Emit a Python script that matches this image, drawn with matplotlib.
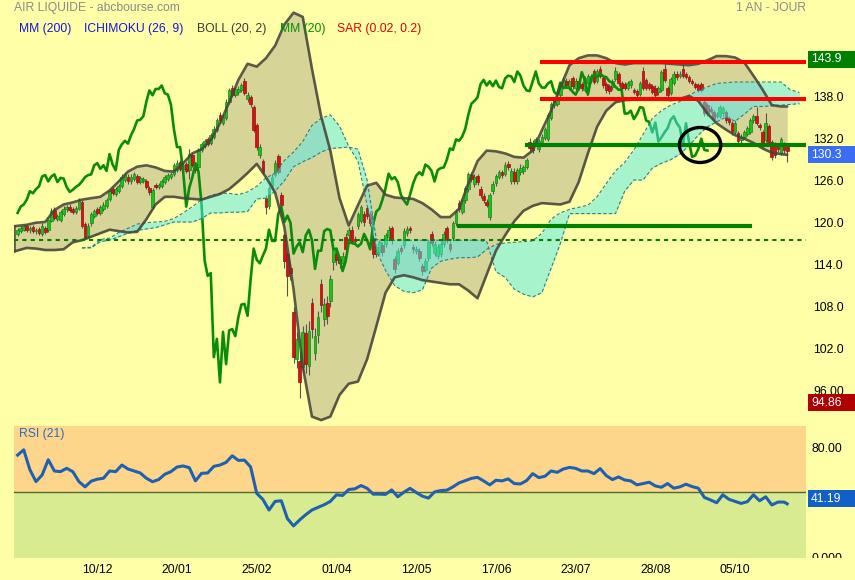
import numpy as np
import matplotlib
matplotlib.use("Agg")
import matplotlib.pyplot as plt
from matplotlib.patches import Rectangle, Ellipse
from matplotlib.transforms import Bbox, TransformedBbox

plt.rcParams['font.family'] = ['Liberation Sans', 'DejaVu Sans']

# ---------------- data ----------------
date_labels = ['10/12', '20/01', '25/02', '01/04', '12/05', '17/06', '23/07', '28/08', '05/10']
label_bars = [26, 52, 78, 104, 130, 156, 182, 208, 234]

opens = [
    118.4, 118.8, 119.0, 119.6, 118.9, 119.4, 118.8, 119.1, 118.4, 119.3,
    118.9, 120.3, 121.8, 120.6, 120.4, 121.3, 121.9, 122.3, 121.9, 121.6,
    122.0, 123.0, 119.8, 118.1, 119.9, 121.0, 121.9, 121.4, 122.0, 122.4,
    123.4, 124.8, 124.1, 124.6, 125.2, 126.1, 126.6, 125.9, 126.3, 126.7,
    125.8, 126.0, 125.9, 125.0, 122.3, 125.4, 125.1, 125.3, 125.8, 126.3,
    126.6, 126.9, 127.6, 128.6, 127.7, 128.4, 127.5, 129.6, 128.4, 128.0,
    130.4, 131.0, 131.9, 131.4, 132.3, 133.3, 135.4, 134.3, 135.0, 137.2,
    139.2, 138.3, 138.6, 139.0, 140.2, 137.6, 137.9, 136.5, 134.0, 129.7,
    128.8, 123.6, 122.4, 125.2, 126.8, 129.5, 124.0, 118.3, 115.5, 113.6,
    107.2, 100.6, 100.2, 99.4, 104.2, 99.6, 108.5, 101.4, 103.9, 111.3,
    106.2, 108.6, 108.8, 114.4, 115.5, 114.8, 114.2, 118.0, 118.3, 119.0,
    117.7, 119.6, 120.2, 121.2, 122.1, 121.3, 117.8, 115.6, 115.8, 116.8,
    117.0, 117.9, 119.2, 114.8, 114.3, 116.4, 116.8, 118.5, 119.3, 116.6,
    115.9, 116.0, 113.8, 113.3, 115.0, 118.4, 115.7, 115.2, 115.5, 117.0,
    119.2, 117.0, 117.8, 120.0, 122.8, 121.6, 123.2, 124.8, 126.8, 125.5,
    126.7, 124.8, 123.8, 123.0, 120.8, 124.5, 125.7, 126.5, 127.3, 127.0,
    128.4, 125.9, 127.3, 125.9, 127.2, 127.4, 128.0, 131.5, 131.4, 131.3,
    130.5, 131.5, 132.1, 132.0, 135.0, 136.8, 137.0, 138.2, 139.5, 140.3,
    139.3, 140.6, 139.2, 140.3, 139.8, 139.0, 140.0, 140.3, 141.6, 140.2,
    142.0, 140.6, 139.8, 139.5, 139.4, 140.5, 141.2, 139.9, 139.8, 139.3,
    139.6, 138.9, 138.8, 138.4, 141.6, 140.4, 139.8, 139.5, 139.3, 138.6,
    139.0, 142.0, 139.2, 138.5, 140.0, 141.3, 140.9, 142.0, 141.2, 140.8,
    140.2, 139.8, 139.6, 139.8, 137.3, 136.8, 136.3, 135.8, 135.2, 135.2,
    135.6, 135.8, 135.0, 134.2, 132.9, 132.8, 131.8, 132.2, 132.7, 133.0,
    134.6, 135.3, 134.0, 132.9, 131.8, 133.8, 131.5, 131.2, 130.8, 130.0,
    131.2, 131.0]

closes = [
    118.9, 119.2, 119.5, 119.0, 119.3, 118.8, 119.0, 118.6, 119.6, 118.7,
    120.4, 121.7, 120.7, 120.9, 121.5, 122.0, 122.2, 121.8, 121.6, 122.1,
    123.2, 119.6, 118.0, 119.6, 121.2, 121.7, 121.4, 122.3, 122.6, 123.3,
    124.5, 124.2, 124.8, 125.2, 126.6, 126.8, 125.9, 126.6, 126.9, 125.8,
    126.4, 126.3, 125.1, 124.4, 124.7, 125.1, 125.4, 125.9, 126.5, 126.8,
    126.9, 128.2, 128.5, 127.7, 128.2, 127.4, 129.8, 128.3, 127.5, 130.4,
    131.2, 131.7, 131.3, 132.5, 133.4, 134.6, 134.7, 135.2, 137.3, 138.9,
    138.2, 139.1, 139.1, 139.6, 138.5, 138.3, 136.9, 133.3, 130.8, 130.8,
    127.3, 122.3, 125.0, 126.5, 128.5, 127.3, 122.6, 114.6, 112.4, 112.8,
    100.8, 103.4, 97.2, 104.4, 99.8, 104.6, 104.8, 103.8, 106.5, 108.3,
    108.4, 106.7, 111.9, 116.3, 114.7, 114.2, 115.3, 116.3, 119.0, 117.4,
    117.4, 121.2, 122.3, 120.1, 121.0, 120.0, 115.6, 116.6, 117.2, 115.8,
    118.2, 119.0, 117.5, 113.4, 116.0, 116.0, 118.8, 119.1, 118.9, 116.2,
    116.3, 114.9, 113.1, 114.5, 117.2, 117.1, 117.0, 116.6, 117.0, 118.4,
    117.5, 116.2, 119.9, 121.6, 122.0, 123.3, 124.9, 127.0, 126.2, 126.5,
    125.8, 124.0, 123.2, 122.6, 124.0, 125.6, 126.7, 127.2, 126.8, 128.3,
    128.0, 127.4, 125.9, 127.5, 127.8, 127.9, 129.0, 130.6, 130.4, 131.9,
    131.7, 132.3, 133.4, 135.4, 137.0, 137.4, 137.9, 139.8, 140.4, 139.6,
    140.2, 139.5, 140.3, 139.4, 139.2, 140.6, 141.0, 140.9, 140.1, 141.6,
    141.0, 139.6, 138.9, 138.8, 140.2, 141.6, 139.9, 139.3, 139.3, 139.9,
    140.2, 138.7, 138.3, 140.0, 139.3, 139.3, 139.3, 138.7, 138.3, 139.2,
    141.5, 140.4, 138.3, 140.5, 141.2, 140.8, 141.3, 140.9, 140.8, 140.2,
    140.0, 139.4, 139.0, 139.0, 135.6, 135.6, 136.0, 134.8, 135.5, 136.5,
    136.4, 134.6, 134.4, 132.9, 134.3, 131.6, 132.2, 132.9, 133.5, 134.7,
    135.2, 134.2, 133.6, 131.1, 134.2, 131.5, 129.4, 129.6, 130.5, 132.0,
    130.4, 130.3]

highs = [
    119.2, 119.5, 119.8, 119.8, 119.6, 119.7, 119.3, 119.4, 119.9, 119.6,
    120.6, 122.1, 122.2, 121.3, 121.8, 122.4, 122.6, 122.7, 122.2, 122.4,
    123.5, 123.3, 120.1, 120.0, 121.5, 122.0, 122.2, 122.6, 122.9, 123.6,
    124.8, 125.1, 125.1, 125.5, 127.0, 127.2, 126.9, 126.9, 127.3, 127.0,
    126.7, 126.6, 126.2, 125.3, 125.0, 125.7, 125.7, 126.2, 126.8, 127.1,
    127.2, 128.5, 128.9, 128.9, 128.5, 128.7, 130.5, 129.9, 128.7, 130.7,
    131.5, 132.0, 132.2, 132.8, 133.8, 135.0, 135.8, 135.5, 137.6, 139.2,
    139.6, 139.4, 139.5, 140.0, 140.7, 138.7, 138.3, 136.8, 134.3, 131.3,
    129.1, 123.9, 125.3, 126.9, 129.0, 129.8, 124.4, 118.6, 116.0, 114.3,
    108.0, 104.4, 101.5, 105.2, 105.5, 106.0, 109.3, 105.0, 107.4, 112.0,
    109.2, 109.5, 112.5, 116.8, 116.0, 115.2, 115.8, 118.5, 119.4, 119.5,
    118.1, 121.5, 122.6, 121.7, 122.4, 121.7, 118.2, 117.0, 117.6, 117.3,
    118.6, 119.5, 119.6, 115.2, 116.4, 116.8, 119.2, 119.6, 119.6, 117.0,
    116.7, 116.4, 114.3, 114.9, 117.6, 118.8, 117.4, 117.0, 117.4, 118.8,
    119.6, 117.4, 120.3, 122.0, 123.2, 123.6, 125.3, 127.3, 127.2, 126.9,
    127.0, 125.2, 124.2, 123.4, 124.3, 125.9, 127.0, 127.5, 127.6, 128.6,
    128.8, 127.8, 127.8, 127.8, 128.4, 128.3, 129.3, 132.1, 131.8, 132.2,
    132.0, 132.6, 133.7, 135.7, 137.3, 137.8, 138.3, 140.1, 140.8, 140.6,
    140.5, 140.9, 140.6, 140.6, 140.1, 140.9, 141.3, 141.2, 142.0, 141.9,
    142.4, 140.9, 140.1, 139.8, 140.5, 142.2, 141.5, 140.2, 140.1, 140.2,
    140.5, 139.2, 139.1, 140.3, 142.3, 140.7, 140.1, 139.8, 139.6, 139.5,
    141.8, 142.6, 139.5, 140.8, 141.6, 141.6, 141.6, 142.5, 141.5, 141.1,
    140.5, 140.1, 139.9, 140.1, 137.6, 137.1, 136.6, 136.1, 135.8, 136.8,
    136.7, 136.1, 135.3, 134.5, 134.6, 133.1, 132.6, 133.2, 133.8, 135.0,
    135.5, 136.5, 134.3, 133.2, 135.6, 134.1, 131.8, 131.5, 131.1, 132.3,
    131.5, 131.3]

lows = [
    118.1, 118.5, 118.8, 118.7, 118.6, 118.5, 118.4, 118.3, 118.1, 118.4,
    118.7, 120.1, 120.4, 120.3, 120.1, 121.0, 121.6, 121.5, 121.2, 121.3,
    121.8, 119.3, 117.7, 117.8, 119.6, 120.7, 121.1, 121.1, 121.7, 122.1,
    123.1, 123.9, 123.8, 124.3, 124.9, 125.8, 125.6, 125.6, 126.0, 125.5,
    125.5, 125.7, 124.8, 123.9, 122.0, 124.8, 124.8, 125.0, 125.5, 126.0,
    126.3, 126.7, 127.3, 127.4, 127.4, 127.1, 126.2, 128.0, 127.1, 127.7,
    130.1, 130.7, 131.0, 131.1, 132.0, 133.0, 134.2, 134.0, 134.7, 136.9,
    137.9, 138.0, 138.3, 138.7, 138.2, 137.2, 136.5, 132.9, 130.4, 129.2,
    126.9, 121.3, 122.0, 124.8, 126.5, 126.9, 122.1, 113.6, 109.5, 111.8,
    100.0, 99.2, 94.9, 98.6, 98.6, 98.2, 103.5, 100.4, 102.8, 107.2,
    105.3, 105.6, 108.0, 113.3, 114.0, 113.6, 113.4, 115.5, 117.6, 116.9,
    116.9, 119.1, 119.9, 119.6, 120.6, 119.5, 115.0, 115.1, 115.4, 115.3,
    116.6, 117.5, 117.0, 112.8, 113.9, 115.5, 116.4, 118.1, 118.5, 115.7,
    115.5, 114.5, 112.6, 112.9, 114.6, 116.7, 115.3, 114.8, 115.1, 116.6,
    117.1, 115.8, 117.4, 119.6, 121.6, 121.2, 122.8, 124.4, 125.8, 125.1,
    125.4, 123.6, 122.8, 122.2, 120.4, 124.1, 125.3, 126.2, 126.4, 126.7,
    127.6, 125.5, 125.6, 125.6, 126.8, 127.0, 127.7, 130.1, 130.0, 130.9,
    130.1, 131.2, 131.8, 131.7, 134.6, 136.4, 136.7, 137.9, 139.1, 139.2,
    139.0, 139.1, 138.9, 139.0, 138.8, 138.7, 139.7, 139.9, 139.8, 139.9,
    140.7, 139.2, 138.5, 138.4, 139.0, 140.2, 139.5, 138.9, 138.9, 139.0,
    139.3, 138.4, 137.9, 138.1, 139.0, 139.0, 139.0, 138.4, 138.0, 138.3,
    138.7, 140.1, 137.9, 138.2, 139.7, 140.4, 140.6, 140.6, 140.5, 139.9,
    139.7, 139.1, 138.7, 138.7, 135.2, 135.2, 135.6, 134.4, 134.9, 134.9,
    135.3, 134.3, 134.0, 132.5, 132.6, 131.2, 131.4, 131.9, 132.4, 132.7,
    134.3, 133.9, 133.3, 130.7, 131.5, 131.2, 128.9, 129.2, 130.1, 129.7,
    130.0, 128.6]

# Bollinger (20, 2), one reading every 3 sessions
boll_upper = [
    119.5, 119.7, 120.0, 120.1, 121.8, 122.6, 122.9, 123.3, 123.5, 123.7,
    124.6, 125.9, 127.3, 128.0, 128.2, 127.9, 127.4, 127.3, 128.5, 129.9,
    130.5, 131.8, 134.2, 137.2, 140.4, 142.7, 142.3, 143.5, 145.3, 148.3,
    150.0, 149.4, 142.0, 135.2, 130.3, 123.5, 119.6, 122.5, 125.3, 125.7,
    124.0, 123.6, 123.5, 123.4, 122.8, 121.9, 120.8, 120.8, 122.0, 125.6,
    128.8, 130.3, 130.2, 129.9, 129.4, 129.3, 130.3, 133.2, 136.0, 139.3,
    142.5, 143.5, 143.9, 143.9, 143.5, 142.8, 142.6, 142.8, 142.8, 142.8,
    142.8, 142.7, 142.6, 142.5, 142.7, 143.2, 143.8, 143.8, 143.6, 142.9,
    141.0, 139.0, 136.8, 136.6, 136.6]
boll_lower = [
    115.9, 116.4, 116.3, 116.1, 116.1, 116.2, 117.2, 117.5, 118.0, 118.5,
    119.0, 118.8, 118.6, 118.7, 120.5, 122.6, 123.7, 123.7, 123.5, 123.4,
    123.3, 123.7, 124.1, 124.8, 125.9, 127.1, 128.4, 126.5, 124.3, 119.4,
    110.5, 99.5, 92.3, 91.8, 92.3, 95.4, 97.0, 97.3, 100.5, 105.2,
    110.0, 112.2, 112.5, 112.2, 111.8, 111.6, 111.4, 111.2, 111.2, 110.3,
    109.2, 112.6, 116.0, 118.2, 120.2, 121.7, 122.4, 122.8, 122.7, 122.6,
    123.0, 125.8, 129.9, 133.7, 136.0, 137.2, 137.5, 137.6, 137.7, 137.8,
    137.7, 137.5, 137.7, 138.1, 137.4, 135.6, 134.2, 133.3, 132.5, 132.0,
    131.4, 130.6, 130.0, 129.8, 129.7]

# Ichimoku cloud spans, one reading every 3 sessions from session 21
cloud_a = [
    116.4, 116.5, 117.6, 117.8, 118.6, 119.2, 119.8, 120.0, 120.1, 120.2,
    120.6, 121.4, 122.3, 123.3, 123.9, 124.2, 124.2, 124.0, 124.4, 125.2,
    126.4, 127.1, 128.9, 130.1, 131.6, 133.9, 134.9, 135.4, 133.8, 130.9,
    128.8, 122.5, 116.0, 113.2, 111.0, 110.2, 110.0, 110.4, 113.5, 114.5,
    114.8, 115.0, 115.0, 115.1, 116.2, 116.9, 117.1, 117.2, 117.3, 117.4,
    118.5, 120.5, 121.4, 121.9, 122.2, 122.5, 123.7, 125.6, 127.4, 128.6,
    130.4, 132.6, 134.9, 136.0, 136.8, 137.3, 138.2, 138.9, 139.4, 139.9,
    140.0, 140.1, 140.1, 140.1, 140.1, 140.1, 140.1, 139.0, 138.6]
cloud_b = [
    116.4, 116.4, 117.3, 117.5, 118.0, 118.5, 118.9, 119.1, 119.3, 119.7,
    120.1, 120.1, 120.1, 120.6, 121.4, 121.4, 121.5, 121.5, 121.6, 123.4,
    123.5, 124.5, 126.0, 128.0, 128.7, 129.3, 130.1, 130.6, 130.7, 130.8,
    130.5, 126.1, 117.6, 117.5, 117.5, 117.5, 117.5, 117.5, 117.5, 117.5,
    117.5, 117.5, 117.5, 117.5, 117.3, 113.0, 112.2, 110.5, 109.8, 109.4,
    110.0, 113.5, 117.0, 121.3, 121.3, 121.3, 121.3, 121.3, 121.3, 124.5,
    126.1, 126.1, 127.8, 128.5, 129.0, 129.8, 131.0, 132.5, 133.7, 134.4,
    135.1, 134.5, 135.5, 136.6, 136.6, 136.7, 136.8, 136.9, 137.0]

# RSI (21), one reading every 2 sessions plus the last session
rsi_values = [
    78, 82, 67, 58, 63, 74.5, 66, 65.5, 68, 65.5,
    58, 54, 58.3, 59.8, 60.5, 66, 65.5, 70.5, 67.5, 66,
    64.5, 60.5, 57.9, 59.5, 63.5, 65.5, 69, 69.8, 68.5, 58.5,
    64.2, 64.5, 69.5, 70.5, 72.5, 77.5, 74, 74.2, 69, 49.1,
    44.5, 36.5, 43, 43.5, 30, 24.5, 29, 33, 36.5, 38.5,
    40.5, 43, 48, 47.5, 52, 52.5, 55, 52.9, 48.5, 48.5,
    48.3, 51.7, 46.5, 50, 52.9, 49.8, 47, 45.5, 50.2, 51.2,
    51.5, 54, 57, 58.7, 60.4, 61.2, 58.5, 55.5, 59, 58.5,
    60, 56.5, 56.2, 58.7, 64, 61, 62, 66, 65, 67.5,
    68.7, 68, 66, 66, 64, 67.8, 62.5, 59.5, 61.5, 59.2,
    58.5, 55.5, 56.5, 57.5, 54.7, 53.7, 56.5, 53, 54, 56,
    54.2, 53, 46, 44.1, 42, 48, 44.6, 43, 41.5, 42.8,
    48, 43.5, 46.5, 40.3, 42.5, 42.5, 41.19]

LAG = 26                      # Ichimoku lagging span shift (sessions)
price_ticks = [96, 102, 108, 114, 120, 126, 132, 138]
price_tick_labels = ['96.00', '102.0', '108.0', '114.0', '120.0', '126.0', '132.0', '138.0']
support_dashed = 117.5
red_levels = [143.0, 137.7]
red_from = 170.4
green_levels = [131.1, 119.57]
green_from = [165.5, 143.2]
green_to = [None, 239.4]
circle_center = (222.6, 131.1)
circle_size = (13.5, 5.0)
box_high, box_last, box_low, rsi_last = 143.9, 130.3, 94.86, 41.19

# ---------------- layout ----------------
BG = '#FFFFA8'
W, H = 855, 580
fig = plt.figure(figsize=(W / 100, H / 100), dpi=100, facecolor=BG)


def fxp(px):
    return px / W


def fyp(py):
    return 1 - py / H


XL = (-1.174, 257.14)
ax = fig.add_axes([fxp(14), fyp(422), fxp(806) - fxp(14), fyp(0) - fyp(422)])
ax.set_facecolor('none')
ax.set_xlim(*XL)
ax.set_ylim(91.529, 151.814)
for s in ax.spines.values():
    s.set_visible(False)

n = len(closes)
idx = np.arange(n)
o = np.array(opens)
c = np.array(closes)
hi = np.array(highs)
lo = np.array(lows)

# Bollinger (band opens at the left edge of the plot)
bx = np.clip(np.arange(0, 3 * len(boll_upper), 3), 0, n - 1).astype(float)
bx[0] = XL[0] + 0.1
ax.fill_between(bx, boll_lower, boll_upper, color='#D7D497', lw=0, zorder=1)
band_kw = dict(color='#45453a', lw=1.9, alpha=0.88, zorder=8.5, solid_capstyle='round')
ax.plot([bx[0], bx[0]], [boll_lower[0], boll_upper[0]], **band_kw)
ax.plot(bx, boll_upper, **band_kw)
ax.plot(bx, boll_lower, **band_kw)

# candles
up = c >= o
ax.vlines(idx, lo, hi, color='#555555', lw=0.8, zorder=3)
bot = np.minimum(o, c)
hgt = np.maximum(np.abs(c - o), 0.15)
ax.bar(idx[up], hgt[up], bottom=bot[up], width=0.88, color='#17C417', edgecolor='#1B861B', linewidth=0.5, zorder=4)
ax.bar(idx[~up], hgt[~up], bottom=bot[~up], width=0.88, color='#D41212', edgecolor='#961010', linewidth=0.5, zorder=4)

# lagging span (green)
lag = c[LAG:]
ax.plot(np.arange(len(lag)), lag, color='#0A8C0A', lw=1.9, zorder=6)

# Ichimoku cloud
cx = np.arange(21, 21 + 3 * len(cloud_a), 3)
ax.fill_between(cx, cloud_a, cloud_b, color=(81 / 255, 235 / 255, 240 / 255), alpha=0.5, lw=0, zorder=7)
ax.plot(cx, cloud_a, color='#2F7F80', lw=0.8, ls=(0, (3, 2)), zorder=8)
ax.plot(cx, cloud_b, color='#2F7F80', lw=0.8, ls=(0, (3, 2)), zorder=8)

# drawn lines
ax.axhline(support_dashed, color='#007F00', lw=1.5, ls=(0, (2, 2)), zorder=9)
ax.hlines(red_levels, red_from, XL[1], color='#FF0000', lw=2.9, zorder=10)
for lvl, x0, x1 in zip(green_levels, green_from, green_to):
    ax.hlines(lvl, x0, XL[1] if x1 is None else x1, color='#008000', lw=3.0, zorder=10)
ax.add_patch(Ellipse(circle_center, circle_size[0], circle_size[1], fill=False, ec='black', lw=2.4, zorder=11))

# right axis ticks
ax.yaxis.tick_right()
ax.set_yticks(price_ticks)
ax.set_yticklabels(price_tick_labels)
ax.tick_params(axis='y', length=0, pad=5, labelsize=8.7, labelcolor='black')
ax.set_xticks([])

# ---------------- RSI panel ----------------
axr = fig.add_axes([fxp(14), fyp(558.3), fxp(806) - fxp(14), fyp(426) - fyp(558.3)])
axr.set_xlim(*XL)
axr.set_ylim(0, 100)
for s in axr.spines.values():
    s.set_visible(False)
axr.axhspan(50, 100, color='#FDD68C', lw=0, zorder=0)
axr.axhspan(0, 50, color='#D8EB91', lw=0, zorder=0)
axr.axhline(50, color='#4F6B2F', lw=1.0, zorder=1)
rx = np.append(np.arange(0, 2 * (len(rsi_values) - 1), 2), n - 1)
axr.plot(rx, rsi_values, color='#2060B0', lw=2.2, zorder=3, solid_joinstyle='round')
axr.set_yticks([])
axr.set_xticks(label_bars)
axr.set_xticklabels(date_labels)
axr.tick_params(axis='x', length=0, pad=4, labelsize=8.7)

clip = TransformedBbox(Bbox([[0, fyp(558.3)], [1, 1]]), fig.transFigure)
for val, txt, off in [(80, '80.00', 3), (0, '0.000', -1)]:
    t = axr.annotate(txt, xy=(1, val), xycoords=('axes fraction', 'data'), xytext=(5, off),
                     textcoords='offset pixels', va='center', ha='left', fontsize=8.7, annotation_clip=False)
    t.set_clip_box(clip)
    t.set_clip_on(True)
axr.text(0.006, 0.94, 'RSI (21)', transform=axr.transAxes, color='#2A6EBB', fontsize=8.7, va='center', ha='left')

# ---------------- value boxes ----------------
fig.canvas.draw()


def value_box(axis, value, text, color, dy):
    yd = axis.transData.transform((0, value))[1] - dy
    fig.add_artist(Rectangle((808 / W, (yd - 8.5) / H), 47 / W, 17 / H, transform=fig.transFigure,
                             facecolor=color, edgecolor='none', zorder=20))
    fig.text(811 / W, yd / H, text, color='white', fontsize=8.7, va='center', ha='left', zorder=21)


value_box(ax, box_high, '%.1f' % box_high, '#008000', 4)
value_box(ax, box_last, '%.1f' % box_last, '#3A6CF4', 4)
value_box(ax, box_low, '%.2f' % box_low, '#B00000', 4)
value_box(axr, rsi_last, '%.2f' % rsi_last, '#1160C8', -5)

# ---------------- header texts ----------------
fig.text(fxp(14), fyp(8.3), 'AIR LIQUIDE - abcbourse.com', color='#8A8A8A', fontsize=8.7, va='center', ha='left', zorder=30)
fig.text(fxp(806), fyp(8.3), '1 AN - JOUR', color='#8A8A8A', fontsize=8.7, va='center', ha='right', zorder=30)
legend_items = [('MM (200)', '#1515E0', 19), ('ICHIMOKU (26, 9)', '#1515E0', 84), ('BOLL (20, 2)', '#3A3A3A', 197),
                ('MM (20)', '#009000', 280), ('SAR (0.02, 0.2)', '#E00000', 337)]
for txt, col, px in legend_items:
    fig.text(fxp(px), fyp(29.3), txt, color=col, fontsize=8.7, va='center', ha='left', zorder=30)

fig.savefig('out.png', dpi=100, facecolor=BG)
